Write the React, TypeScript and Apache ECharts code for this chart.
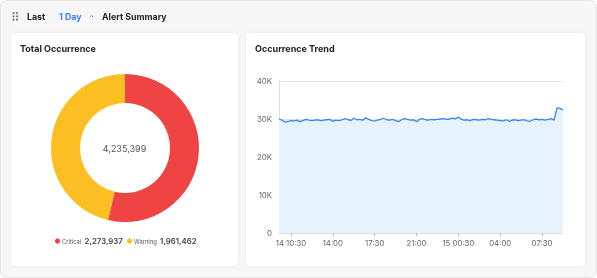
import React, { useEffect, useRef } from "react";
import * as echarts from "echarts";

const pieNames = ["Critical", "Warning"];
const pieValues = [2273937, 1961462];
const pieColors = ["#ef4444", "#fbbf24"];
const totalLabel = "4,235,399";

const trendValues = [
  30000, 29700, 29200, 29400, 29600, 29500, 29700, 29300, 29600, 29900,
  29700, 29600, 29700, 29800, 29600, 29700, 29800, 29900, 29400, 29700,
  29600, 29800, 30100, 29900, 29600, 30200, 29800, 29900, 29700, 30300,
  29900, 29600, 29500, 29700, 29900, 30200, 29800, 29700, 29900, 29600,
  29300, 29800, 30100, 29900, 29700, 29800, 29300, 29900, 30100, 29800,
  29700, 29900, 29800, 29900, 30000, 30100, 29900, 30000, 30200, 30000,
  30500, 29900, 29700, 29800, 29600, 29900, 29800, 29700, 29900, 29800,
  30100, 29900, 29800, 29700, 29600, 29500, 29800, 29400, 29700, 29800,
  29600, 29700, 29800, 29500, 29400, 29800, 30000, 29800, 29900, 29700,
  29900, 30100, 29700, 32900, 32800, 32300,
];
const xTickLabels = ["14 10:30", "14:00", "17:30", "21:00", "15 00:30", "04:00", "07:30"];
const firstTickIndex = 4;
const tickStep = 14;
const startDay = 14;
const startMinutes = 9 * 60 + 30;
const stepMinutes = 15;

const pad = (n: number) => (n < 10 ? "0" + n : "" + n);
const categories = trendValues.map((_, i) => {
  const m = startMinutes + i * stepMinutes;
  const d = startDay + Math.floor(m / 1440);
  const mm = m % 1440;
  return `${d} ${pad(Math.floor(mm / 60))}:${pad(mm % 60)}`;
});

const FONT = "Inter, 'Noto Sans', sans-serif";

export default function App() {
  const ref = useRef<HTMLDivElement>(null);
  useEffect(() => {
    if (!ref.current) return;
    const chart = echarts.init(ref.current, null, { renderer: "svg" });
    const isTick = (i: number) => i >= firstTickIndex && (i - firstTickIndex) % tickStep === 0;
    const dots: any[] = [];
    for (let r = 0; r < 3; r++) {
      for (let c = 0; c < 2; c++) {
        dots.push({
          type: "circle",
          shape: { cx: 13.5 + c * 3.5, cy: 13 + r * 3.3, r: 0.95 },
          style: { fill: "#666" },
          silent: true,
        });
      }
    }
    const legendX = [57.5, 129.5];
    const legendItems: any[] = [];
    pieNames.forEach((n, i) => {
      legendItems.push({
        type: "circle",
        shape: { cx: legendX[i], cy: 241, r: 2.6 },
        style: { fill: pieColors[i] },
        silent: true,
      });
      legendItems.push({
        type: "text",
        x: legendX[i] + 4.5,
        y: 241,
        style: {
          text: `{a|${n}} {b|${pieValues[i].toLocaleString("en-US")}}`,
          verticalAlign: "middle",
          rich: {
            a: { fontSize: 5.8, fill: "#555", fontFamily: FONT },
            b: { fontSize: 7.8, fontWeight: 600, fill: "#3f3f46", fontFamily: FONT },
          },
        },
        silent: true,
      });
    });
    chart.setOption({
      animation: false,
      textStyle: { fontFamily: FONT },
      graphic: [
        {
          type: "rect",
          z: -10,
          shape: { x: 0.5, y: 0.5, width: 596, height: 277, r: 6 },
          style: { fill: "#f7f7f7", stroke: "#e4e4e4", lineWidth: 1 },
          silent: true,
        },
        {
          type: "rect",
          z: -9,
          shape: { x: 11, y: 33, width: 227, height: 233, r: 4 },
          style: { fill: "#ffffff", shadowBlur: 3, shadowColor: "rgba(0,0,0,0.06)" },
          silent: true,
        },
        {
          type: "rect",
          z: -9,
          shape: { x: 246, y: 33, width: 339, height: 233, r: 4 },
          style: { fill: "#ffffff", shadowBlur: 3, shadowColor: "rgba(0,0,0,0.06)" },
          silent: true,
        },
        ...dots,
        ...legendItems,
        {
          type: "text",
          x: 27,
          y: 16.5,
          style: { text: "Last", fill: "#262626", font: `700 8.8px ${FONT}`, verticalAlign: "middle" },
        },
        {
          type: "text",
          x: 59,
          y: 16.5,
          style: { text: "1 Day", fill: "#3b82f6", font: `700 8.8px ${FONT}`, verticalAlign: "middle" },
        },
        {
          type: "polyline",
          shape: { points: [[90, 17.3], [91.7, 15.5], [93.4, 17.3]] },
          style: { stroke: "#3b82f6", lineWidth: 0.9, fill: null },
        },
        {
          type: "text",
          x: 102,
          y: 16.5,
          style: { text: "Alert Summary", fill: "#262626", font: `700 8.8px ${FONT}`, verticalAlign: "middle" },
        },
        {
          type: "text",
          x: 20,
          y: 48.5,
          style: { text: "Total Occurrence", fill: "#222", font: `700 9px ${FONT}`, verticalAlign: "middle" },
        },
        {
          type: "text",
          x: 255,
          y: 48.5,
          style: { text: "Occurrence Trend", fill: "#222", font: `700 9px ${FONT}`, verticalAlign: "middle" },
        },
        {
          type: "text",
          x: 124.5,
          y: 148,
          style: {
            text: totalLabel,
            fill: "#52525b",
            font: `400 9px ${FONT}`,
            align: "center",
            verticalAlign: "middle",
          },
        },
      ],
      grid: { left: 279, right: 34, top: 81, bottom: 45 },
      xAxis: {
        type: "category",
        data: categories,
        boundaryGap: false,
        axisLine: { lineStyle: { color: "#d6e2ec" } },
        axisTick: { interval: (i: number) => isTick(i), length: 3, lineStyle: { color: "#bbb" } },
        axisLabel: {
          interval: (i: number) => isTick(i),
          formatter: (_v: string, i: number) => xTickLabels[(i - firstTickIndex) / tickStep] ?? "",
          color: "#666",
          fontSize: 7.8,
          margin: 6,
          fontFamily: FONT,
        },
        splitLine: { show: false },
      },
      yAxis: {
        type: "value",
        min: 0,
        max: 40000,
        interval: 10000,
        axisLine: { show: true, lineStyle: { color: "#d6e2ec" } },
        axisTick: { show: false },
        axisLabel: {
          formatter: (v: number) => (v === 0 ? "0" : v / 1000 + "K"),
          color: "#666",
          fontSize: 7.8,
          margin: 7,
          fontFamily: FONT,
        },
        splitLine: { lineStyle: { color: "#dfe7ee" } },
      },
      series: [
        {
          type: "pie",
          center: [125, 148],
          radius: [45, 74],
          startAngle: 90,
          label: { show: false },
          labelLine: { show: false },
          silent: true,
          data: pieNames.map((n, i) => ({ name: n, value: pieValues[i], itemStyle: { color: pieColors[i] } })),
        },
        {
          type: "line",
          data: trendValues,
          showSymbol: false,
          lineStyle: { color: "#3b82f6", width: 1.3 },
          itemStyle: { color: "#3b82f6" },
          areaStyle: { color: "#e6f3fd", opacity: 1 },
          silent: true,
        },
      ],
    });
    return () => chart.dispose();
  }, []);
  return (
    <div
      ref={ref}
      style={{ position: "fixed", left: 0, top: 0, width: 597, height: 278 }}
    />
  );
}
